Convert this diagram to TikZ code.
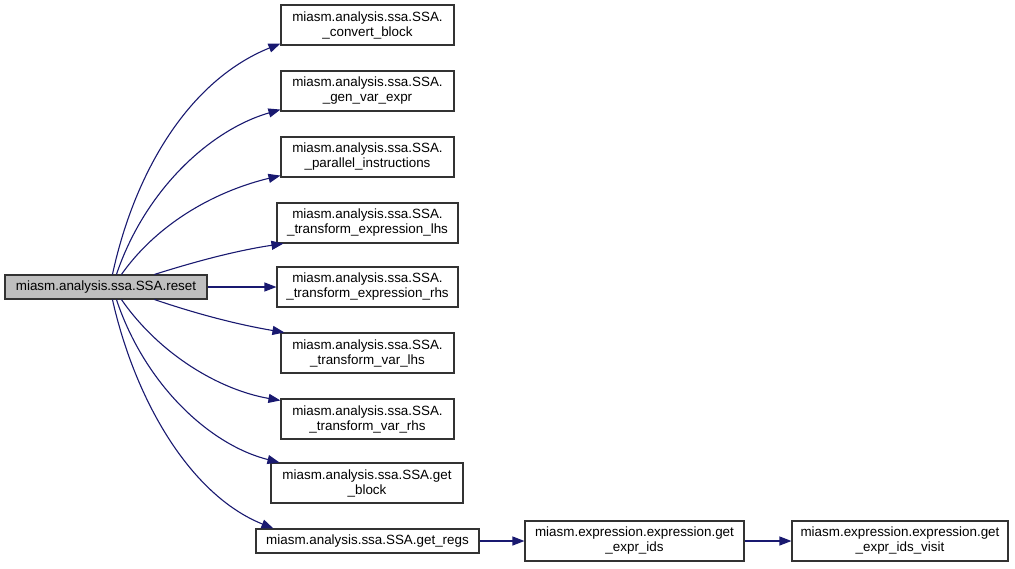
\documentclass[tikz,border=0pt]{standalone}
\usepackage{fontspec}
\setmainfont{Liberation Sans}
\usetikzlibrary{arrows.meta}
\definecolor{edgeblue}{HTML}{191970}
\definecolor{boxline}{HTML}{333333}
\definecolor{resetfill}{HTML}{BFBFBF}
\begin{document}
\begin{tikzpicture}[x=1pt,y=-1pt,
  box/.style={draw=boxline, line width=1.1pt, fill=white, inner sep=0pt, align=center,
    font=\fontsize{13.4}{15}\selectfont},
  mainbox/.style={box, fill=resetfill},
  link/.style={draw=edgeblue, line width=1.1pt, -{Triangle[length=12pt,width=9pt]}, fill=none}
]
\useasboundingbox (0,0) rectangle (1015,568);

\node[mainbox, minimum width=202pt, minimum height=24pt] (reset) at (106,287) {miasm.analysis.ssa.SSA.reset};

\node[box, minimum width=173pt, minimum height=40pt] (cb) at (367.5,25) {miasm.analysis.ssa.SSA.\\\_convert\_block};
\node[box, minimum width=173pt, minimum height=40pt] (gv) at (367.5,91) {miasm.analysis.ssa.SSA.\\\_gen\_var\_expr};
\node[box, minimum width=173pt, minimum height=40pt] (pi) at (367.5,157) {miasm.analysis.ssa.SSA.\\\_parallel\_instructions};
\node[box, minimum width=181pt, minimum height=40pt] (tel) at (367.5,223) {miasm.analysis.ssa.SSA.\\\_transform\_expression\_lhs};
\node[box, minimum width=181pt, minimum height=40pt] (ter) at (367.5,287) {miasm.analysis.ssa.SSA.\\\_transform\_expression\_rhs};
\node[box, minimum width=173pt, minimum height=40pt] (tvl) at (367.5,353) {miasm.analysis.ssa.SSA.\\\_transform\_var\_lhs};
\node[box, minimum width=173pt, minimum height=40pt] (tvr) at (367.5,419) {miasm.analysis.ssa.SSA.\\\_transform\_var\_rhs};
\node[box, minimum width=192pt, minimum height=40pt] (gb) at (367,483) {miasm.analysis.ssa.SSA.get\\\_block};
\node[box, minimum width=223pt, minimum height=24pt] (gr) at (367.5,541) {miasm.analysis.ssa.SSA.get\_regs};
\node[box, minimum width=219pt, minimum height=40pt] (gei) at (634.5,541) {miasm.expression.expression.get\\\_expr\_ids};
\node[box, minimum width=216pt, minimum height=40pt] (geiv) at (900,541) {miasm.expression.expression.get\\\_expr\_ids\_visit};

\draw[link] ([xshift=108pt]reset.north west) .. controls (135,170) and (190,80) .. ([yshift=2pt]cb.south west);
\draw[link] ([xshift=112pt]reset.north west) .. controls (145,190) and (210,130) .. ([yshift=2pt]gv.south west);
\draw[link] ([xshift=117pt]reset.north west) .. controls (160,220) and (220,190) .. ([yshift=2pt]pi.south west);
\draw[link] ([xshift=150pt]reset.north west) .. controls (200,260) and (240,250) .. ([xshift=7pt]tel.south west);
\draw[link] (reset.east) -- (ter.west);
\draw[link] ([xshift=150pt]reset.south west) .. controls (200,315) and (240,325) .. ([xshift=4pt]tvl.north west);
\draw[link] ([xshift=117pt]reset.south west) .. controls (160,355) and (220,390) .. ([yshift=-2pt]tvr.north west);
\draw[link] ([xshift=112pt]reset.south west) .. controls (145,385) and (210,445) .. ([xshift=9pt]gb.north west);
\draw[link] ([xshift=108pt]reset.south west) .. controls (135,400) and (190,495) .. ([xshift=18pt]gr.north west);
\draw[link] (gr.east) -- (gei.west);
\draw[link] (gei.east) -- (geiv.west);
\end{tikzpicture}
\end{document}
